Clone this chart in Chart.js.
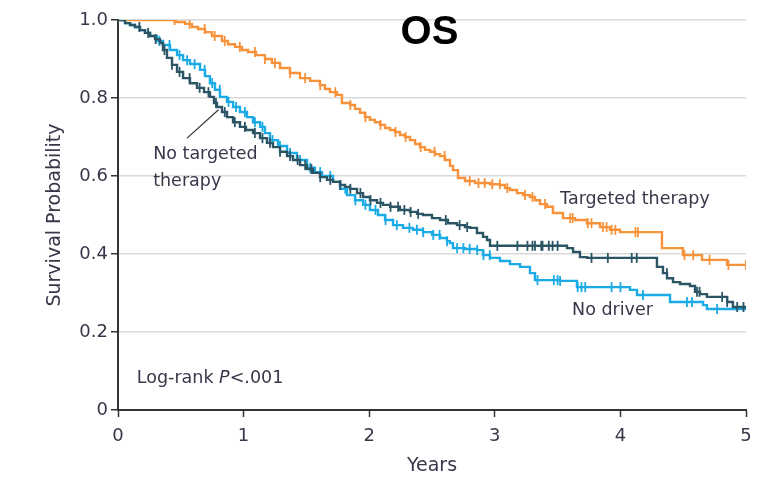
<!DOCTYPE html>
<html>
<head>
<meta charset="utf-8">
<script src="https://cdn.jsdelivr.net/npm/chart.js@4/dist/chart.umd.min.js"></script>
<style>
  html, body { margin: 0; padding: 0; background: #ffffff; }
  #wrap { width: 761px; height: 486px; }
</style>
</head>
<body>
<div id="wrap"><canvas id="km" width="761" height="486"></canvas></div>
<script>
// Kaplan-Meier overall survival, three patient groups.
// Each curve: years at which the estimate steps, and the survival after the step.
const ttYears = [0, 0.414, 0.462, 0.533, 0.589, 0.637, 0.693, 0.748, 0.828, 0.876, 0.932, 0.987, 1.035, 1.099, 1.170, 1.226, 1.290, 1.369, 1.449, 1.529, 1.608, 1.648, 1.688, 1.744, 1.783, 1.847, 1.887, 1.927, 1.967, 2.006, 2.046, 2.086, 2.126, 2.166, 2.205, 2.245, 2.285, 2.325, 2.365, 2.404, 2.444, 2.484, 2.524, 2.564, 2.603, 2.643, 2.667, 2.707, 2.763, 2.842, 2.962, 3.041, 3.081, 3.121, 3.177, 3.225, 3.280, 3.320, 3.360, 3.416, 3.463, 3.543, 3.639, 3.734, 3.838, 3.917, 3.997, 4.331, 4.498, 4.650, 4.849, 5.000];
const ttSurv  = [1, 1.000, 0.995, 0.990, 0.982, 0.977, 0.969, 0.959, 0.946, 0.938, 0.931, 0.923, 0.918, 0.910, 0.900, 0.890, 0.877, 0.864, 0.851, 0.844, 0.833, 0.823, 0.815, 0.808, 0.787, 0.782, 0.772, 0.762, 0.751, 0.744, 0.738, 0.731, 0.723, 0.718, 0.713, 0.705, 0.700, 0.692, 0.682, 0.674, 0.667, 0.662, 0.656, 0.651, 0.641, 0.626, 0.615, 0.595, 0.587, 0.582, 0.579, 0.577, 0.569, 0.564, 0.556, 0.551, 0.546, 0.538, 0.528, 0.521, 0.505, 0.492, 0.487, 0.479, 0.469, 0.462, 0.456, 0.415, 0.397, 0.385, 0.372, 0.372];
const ttCensor = [0.45, 0.57, 0.69, 0.77, 0.85, 0.97, 1.09, 1.17, 1.25, 1.37, 1.49, 1.61, 1.73, 1.85, 1.97, 2.09, 2.21, 2.29, 2.41, 2.52, 2.60, 2.80, 2.87, 2.92, 2.98, 3.04, 3.10, 3.24, 3.30, 3.40, 3.60, 3.62, 3.74, 3.77, 3.86, 3.89, 3.93, 3.96, 4.12, 4.14, 4.51, 4.58, 4.71, 4.86, 5.00];

const ntYears = [0, 0.056, 0.096, 0.135, 0.175, 0.215, 0.255, 0.295, 0.334, 0.358, 0.390, 0.430, 0.470, 0.518, 0.573, 0.629, 0.685, 0.732, 0.764, 0.788, 0.828, 0.868, 0.916, 0.971, 1.019, 1.075, 1.131, 1.186, 1.234, 1.290, 1.346, 1.393, 1.449, 1.505, 1.553, 1.608, 1.664, 1.712, 1.768, 1.807, 1.847, 1.903, 1.951, 2.006, 2.062, 2.110, 2.166, 2.245, 2.325, 2.381, 2.428, 2.500, 2.564, 2.627, 2.699, 2.763, 2.803, 2.858, 2.906, 2.938, 2.962, 3.575, 3.623, 3.678, 3.734, 4.291, 4.339, 4.371, 4.419, 4.475, 4.554, 4.594, 4.634, 4.689, 4.850, 4.896, 5.000];
const ntSurv  = [1, 0.992, 0.987, 0.982, 0.974, 0.967, 0.959, 0.951, 0.941, 0.923, 0.903, 0.885, 0.867, 0.851, 0.838, 0.826, 0.815, 0.803, 0.787, 0.777, 0.764, 0.751, 0.738, 0.726, 0.718, 0.710, 0.697, 0.685, 0.674, 0.662, 0.651, 0.641, 0.628, 0.618, 0.608, 0.597, 0.590, 0.585, 0.577, 0.572, 0.567, 0.556, 0.546, 0.538, 0.531, 0.526, 0.521, 0.513, 0.508, 0.503, 0.500, 0.492, 0.487, 0.479, 0.474, 0.469, 0.467, 0.454, 0.444, 0.436, 0.421, 0.415, 0.405, 0.392, 0.390, 0.367, 0.351, 0.338, 0.328, 0.323, 0.318, 0.303, 0.297, 0.290, 0.277, 0.264, 0.264];
const ntCensor = [0.17, 0.24, 0.30, 0.37, 0.43, 0.49, 0.57, 0.65, 0.72, 0.78, 0.85, 0.93, 1.01, 1.09, 1.15, 1.21, 1.29, 1.37, 1.43, 1.49, 1.54, 1.61, 1.69, 1.77, 1.85, 1.93, 2.01, 2.09, 2.17, 2.23, 2.28, 2.33, 2.39, 2.61, 2.72, 2.78, 3.02, 3.18, 3.26, 3.30, 3.32, 3.37, 3.38, 3.43, 3.46, 3.50, 3.77, 3.90, 4.09, 4.13, 4.37, 4.61, 4.63, 4.81, 4.85, 4.93, 4.98];

const ndYears = [0, 0.056, 0.096, 0.135, 0.175, 0.215, 0.255, 0.311, 0.358, 0.414, 0.470, 0.518, 0.573, 0.653, 0.693, 0.732, 0.772, 0.812, 0.868, 0.916, 0.971, 1.027, 1.075, 1.131, 1.170, 1.210, 1.274, 1.346, 1.425, 1.505, 1.568, 1.624, 1.712, 1.768, 1.823, 1.887, 1.951, 2.006, 2.070, 2.126, 2.190, 2.269, 2.349, 2.428, 2.500, 2.564, 2.619, 2.643, 2.667, 2.763, 2.858, 2.906, 2.962, 3.041, 3.121, 3.201, 3.280, 3.320, 3.519, 3.654, 4.076, 4.132, 4.395, 4.658, 4.689, 5.000];
const ndSurv  = [1, 0.992, 0.987, 0.982, 0.974, 0.967, 0.959, 0.946, 0.936, 0.923, 0.910, 0.897, 0.887, 0.872, 0.856, 0.838, 0.821, 0.803, 0.790, 0.777, 0.764, 0.751, 0.738, 0.726, 0.710, 0.692, 0.677, 0.659, 0.641, 0.621, 0.610, 0.600, 0.585, 0.567, 0.551, 0.538, 0.526, 0.513, 0.500, 0.487, 0.474, 0.467, 0.462, 0.456, 0.449, 0.441, 0.433, 0.428, 0.415, 0.413, 0.410, 0.397, 0.390, 0.382, 0.374, 0.367, 0.351, 0.333, 0.331, 0.315, 0.308, 0.295, 0.277, 0.269, 0.259, 0.259];
const ndCensor = [0.33, 0.41, 0.49, 0.55, 0.61, 0.69, 0.75, 0.81, 0.88, 0.94, 1.01, 1.09, 1.15, 1.23, 1.29, 1.37, 1.45, 1.53, 1.61, 1.69, 1.81, 1.89, 1.97, 2.05, 2.13, 2.22, 2.32, 2.38, 2.43, 2.51, 2.56, 2.62, 2.70, 2.75, 2.80, 2.86, 2.91, 2.96, 3.34, 3.47, 3.50, 3.52, 3.66, 3.69, 3.72, 3.93, 4.00, 4.18, 4.53, 4.57, 4.77];

const groupNames = ['No targeted therapy', 'No driver', 'Targeted therapy'];
const groupColors = ['#2b5564', '#1aaae6', '#f8923a'];
const yTicks = [0, 0.2, 0.4, 0.6, 0.8, 1.0];

// survival estimate at time t (right-continuous step function)
function survAt(years, surv, t) {
  let s = surv[0];
  for (let i = 0; i < years.length; i++) {
    if (years[i] <= t) s = surv[i]; else break;
  }
  return s;
}

function curve(years, surv) {
  return years.map((t, i) => ({ x: t, y: surv[i] }));
}
function marks(years, surv, cens) {
  return cens.map(t => ({ x: t, y: survAt(years, surv, t) }));
}

const curves = [
  [ntYears, ntSurv, ntCensor],
  [ndYears, ndSurv, ndCensor],
  [ttYears, ttSurv, ttCensor]
];

const datasets = [];
curves.forEach((c, i) => {
  datasets.push({
    label: groupNames[i],
    data: curve(c[0], c[1]),
    borderColor: groupColors[i],
    borderWidth: 2.4,
    stepped: 'before',
    pointRadius: 0,
    fill: false,
    order: i
  });
  datasets.push({
    type: 'scatter',
    label: groupNames[i] + ' (censored)',
    data: marks(c[0], c[1], c[2]),
    showLine: false,
    pointStyle: 'line',
    rotation: 90,
    pointRadius: 5,
    pointHoverRadius: 5,
    borderColor: groupColors[i],
    backgroundColor: groupColors[i],
    pointBorderWidth: 1.8,
    order: i
  });
});

const textColor = '#37374a';
const labelFont = '"DejaVu Sans", "Liberation Sans", sans-serif';

// curve labels, p-value and panel title, placed in data coordinates
const annotations = {
  id: 'annotations',
  afterDraw(chart) {
    const { ctx, scales: { x, y } } = chart;
    ctx.save();
    ctx.fillStyle = textColor;
    ctx.textBaseline = 'middle';
    ctx.textAlign = 'left';
    const f = '17.5px ' + labelFont;
    ctx.font = f;
    ctx.fillText('Targeted therapy', x.getPixelForValue(3.52), y.getPixelForValue(0.541));
    ctx.fillText('No driver', x.getPixelForValue(3.615), y.getPixelForValue(0.256));
    ctx.fillText('No targeted', x.getPixelForValue(0.28), y.getPixelForValue(0.656));
    ctx.fillText('therapy', x.getPixelForValue(0.28), y.getPixelForValue(0.585));

    // p-value with italic P
    const px = x.getPixelForValue(0.15), py = y.getPixelForValue(0.082);
    const part1 = 'Log-rank ';
    ctx.fillText(part1, px, py);
    let w = ctx.measureText(part1).width;
    ctx.font = 'italic ' + f;
    ctx.fillText('P', px + w, py);
    w += ctx.measureText('P').width;
    ctx.font = f;
    ctx.fillText('<.001', px + w, py);

    // pointer from label to curve
    ctx.strokeStyle = '#333333';
    ctx.lineWidth = 1.2;
    ctx.beginPath();
    ctx.moveTo(x.getPixelForValue(0.55), y.getPixelForValue(0.697));
    ctx.lineTo(x.getPixelForValue(0.80), y.getPixelForValue(0.770));
    ctx.stroke();

    // panel title
    ctx.fillStyle = '#000000';
    ctx.textAlign = 'center';
    ctx.font = 'bold 40px "Liberation Sans", Arial, sans-serif';
    ctx.fillText('OS', x.getPixelForValue(2.48), y.getPixelForValue(0.966));
    ctx.restore();
  }
};

new Chart(document.getElementById('km'), {
  type: 'line',
  data: { datasets },
  plugins: [annotations],
  options: {
    responsive: false,
    animation: false,
    events: [],
    layout: { padding: { top: 20, right: 15, left: 0, bottom: 0 } },
    plugins: {
      legend: { display: false },
      tooltip: { enabled: false },
      title: { display: false }
    },
    scales: {
      x: {
        type: 'linear',
        min: 0,
        max: 5,
        afterFit(scale) { scale.height = 76; },
        ticks: {
          stepSize: 1,
          color: textColor,
          font: { family: labelFont, size: 18 },
          padding: 9,
          callback: v => String(v)
        },
        grid: {
          drawOnChartArea: false,
          drawTicks: true,
          tickLength: 7,
          tickColor: '#333333',
          tickWidth: 1.5
        },
        border: { color: '#333333', width: 2 },
        title: {
          display: true,
          text: 'Years',
          color: textColor,
          font: { family: labelFont, size: 19 },
          padding: { top: 0, bottom: 9 }
        }
      },
      y: {
        type: 'linear',
        min: 0,
        max: 1,
        afterFit(scale) { scale.width = 118; },
        afterBuildTicks(scale) { scale.ticks = yTicks.map(v => ({ value: v })); },
        ticks: {
          color: textColor,
          font: { family: labelFont, size: 18 },
          padding: 3,
          callback: v => (v === 0 ? '0' : v.toFixed(1))
        },
        grid: {
          color: ctx => (ctx.tick && ctx.tick.value === 0 ? 'rgba(0,0,0,0)' : '#d9d9d9'),
          lineWidth: 1.5,
          drawTicks: true,
          tickLength: 7,
          tickColor: '#333333',
          tickWidth: 1.5
        },
        border: { color: '#333333', width: 2 },
        title: {
          display: true,
          text: 'Survival Probability',
          color: textColor,
          font: { family: labelFont, size: 19 },
          padding: { top: 44, bottom: 0 }
        }
      }
    }
  }
});
</script>
</body>
</html>
